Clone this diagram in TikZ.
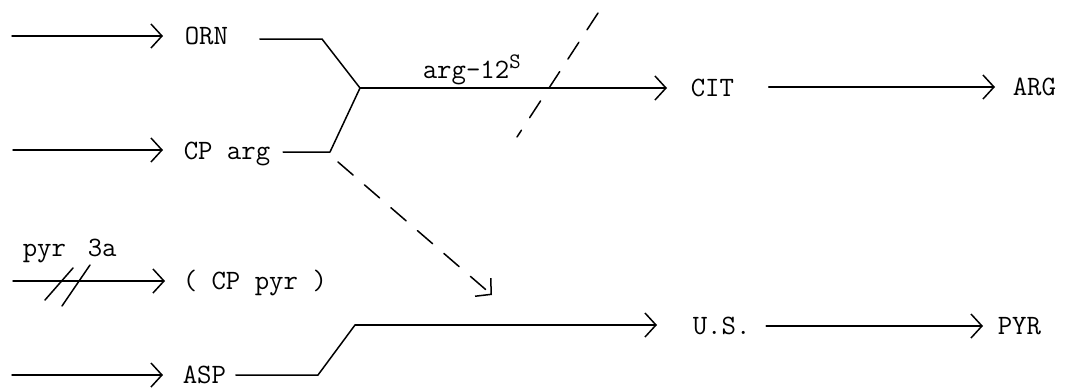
\documentclass[tikz,border=0pt]{standalone}
\usetikzlibrary{arrows.meta}
\begin{document}
\begin{tikzpicture}[x=1pt,y=-1pt,
  line width=1.5pt, line cap=round, line join=round,
  lbl/.style={inner sep=0pt, anchor=base west, font=\fontsize{28}{32}\ttfamily},
  arr/.style={-{Straight Barb[length=11pt,width=24pt]}},
  dsh/.style={dash pattern=on 20pt off 15pt}]
\useasboundingbox (0,0) rectangle (1065,389);
% labels / nodes
\node[lbl] (ORN) at (184,44) {ORN};
\node[lbl] (CParg) at (183,159) {CP arg};
\node[lbl] (CPpyr) at (182,289) {( CP pyr )};
\node[lbl] (ASP) at (182,383) {ASP};
\node[lbl] (CIT) at (690,96) {CIT};
\node[lbl] (ARG) at (1012,95) {ARG};
\node[lbl] (US) at (692,334) {U.S.};
\node[lbl] (PYR) at (997,334) {PYR};
\node[lbl] (pyr) at (22,256) {pyr};
\node[lbl] (tha) at (87,256) {3a};
\node[lbl] (a12) at (422,78) {arg-12\raisebox{10pt}{\fontsize{22}{22}\selectfont S}};
% free ends
\coordinate (in1) at (12,36);
\coordinate (in2) at (13,150);
\coordinate (in3) at (13,281);
\coordinate (in4) at (12,375);
\coordinate (j1) at (360,88);
\coordinate (k1) at (322,39);
\coordinate (k2) at (330,152);
\coordinate (k4) at (318,375);
\coordinate (j4) at (355,325);
\coordinate (d1) at (598,13);
\coordinate (d2) at (517,137);
\coordinate (e1) at (338,162);
\coordinate (e2) at (492,295);
% input arrows
\draw[arr,shorten >=21pt] (in1) -- (in1 -| ORN.west);
\draw[arr,shorten >=20pt] (in2) -- (in2 -| CParg.west);
\draw[arr,shorten >=17pt] (in3) -- (in3 -| CPpyr.west);
\draw[arr,shorten >=19pt] (in4) -- (in4 -| ASP.west);
% crossing strokes on pyr arrow
\draw (45,300) -- (73,268);
\draw (62,306) -- (90,265);
% merge into arg line
\draw[shorten <=31pt] (ORN.east |- k1) -- (k1) -- (j1);
\draw[shorten <=12pt] (CParg.east |- k2) -- (k2) -- (j1);
\draw[arr,shorten >=23pt] (j1) -- (j1 -| CIT.west);
\draw[arr,shorten <=34pt,shorten >=17pt] (CIT.east |- 0,87) -- (ARG.west |- 0,87);
% dashed barrier
\draw[dsh] (d1) -- (d2);
% dashed arrow
\draw[arr,dsh] (e1) -- (e2);
% ASP route
\draw[shorten <=9pt] (ASP.east |- k4) -- (k4) -- (j4);
\draw[arr,shorten >=35pt] (j4) -- (j4 -| US.west);
\draw[arr,shorten <=15pt,shorten >=14pt] (US.east |- 0,326) -- (PYR.west |- 0,326);
\end{tikzpicture}
\end{document}
